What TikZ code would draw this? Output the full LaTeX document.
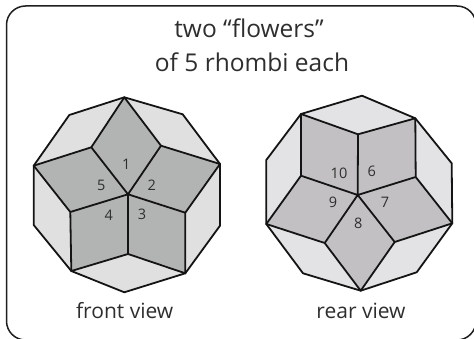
\documentclass[tikz,border=0pt]{standalone}
\usepackage{fontspec}
\setmainfont{Open Sans}
\definecolor{lightA}{HTML}{E0E0E0}
\definecolor{darkA}{HTML}{B2B4B3}
\definecolor{lightB}{HTML}{E3E3E5}
\definecolor{darkB}{HTML}{C2C0C3}
\definecolor{inkT}{HTML}{2E2E2E}
\tikzset{
  edge/.style={draw=black!92,line width=1.8pt,line join=round},
  frame/.style={draw=black!88,line width=1.5pt,rounded corners=19pt},
  titletext/.style={text=inkT,font=\fontsize{24.5}{24.5}\selectfont,inner sep=0pt,anchor=base},
  captext/.style={text=inkT,font=\fontsize{21}{21}\selectfont,inner sep=0pt,anchor=base},
  num/.style={text=inkT,font=\fontsize{14.5}{15}\selectfont,inner sep=0pt,anchor=base}
}
\begin{document}
\begin{tikzpicture}[x=1pt,y=-1pt]
\useasboundingbox (0,0) rectangle (474,339);
\begin{scope}
\clip (0,0) rectangle (474,339);
\draw[frame] (6.5,6) rectangle (476,340);
\end{scope}
\node[titletext] (t1) at (249,37.5) {two “flowers”};
\node[titletext] (t2) at (252,71.5) {of 5 rhombi each};
% front view
\coordinate (a0) at (124.3,97.3);
\coordinate (a1) at (182.7,114.3);
\coordinate (a2) at (220,164);
\coordinate (a3) at (220,225.7);
\coordinate (a4) at (185.3,273.3);
\coordinate (a5) at (124.3,292.3);
\coordinate (a6) at (71.3,271);
\coordinate (a7) at (33.7,225);
\coordinate (a8) at (33.7,165.7);
\coordinate (a9) at (69.3,115);
\coordinate (ac) at (128,194.3);
\coordinate (ap) at (91.3,147.3);
\coordinate (aq) at (161,145.7);
\coordinate (ar) at (185.3,212.7);
\coordinate (as) at (70.3,212);
\coordinate (at) at (128,254);
\fill[lightA] (a0)--(a1)--(a2)--(a3)--(a4)--(a5)--(a6)--(a7)--(a8)--(a9)--cycle;
\fill[darkA] (a0)--(aq)--(a2)--(ar)--(a4)--(at)--(a6)--(as)--(a8)--(ap)--cycle;
\draw[edge] (a0)--(a1)--(a2)--(a3)--(a4)--(a5)--(a6)--(a7)--(a8)--(a9)--cycle;
\draw[edge] (a0)--(aq)--(a2)--(ar)--(a4)--(at)--(a6)--(as)--(a8)--(ap)--cycle;
\draw[edge] (ap)--(ac) (aq)--(ac) (ar)--(ac) (as)--(ac) (at)--(ac);
\node[num] (n1) at (126.3,170) {1};
\node[num] (n2) at (151.7,191) {2};
\node[num] (n3) at (142,220) {3};
\node[num] (n4) at (108.7,220.7) {4};
\node[num] (n5) at (101.3,191) {5};
\node[captext] (fv) at (124.7,318.3) {front view};
% rear view
\coordinate (b0) at (362,95.7);
\coordinate (b1) at (415.3,118.3);
\coordinate (b2) at (451.7,163.3);
\coordinate (b3) at (452.3,223.3);
\coordinate (b4) at (416.7,272.3);
\coordinate (b5) at (360.7,290.7);
\coordinate (b6) at (303,273.3);
\coordinate (b7) at (266.3,224);
\coordinate (b8) at (266.3,160);
\coordinate (b9) at (301,114);
\coordinate (bc) at (357.7,195);
\coordinate (bp) at (358,134.3);
\coordinate (bq) at (415.7,177);
\coordinate (br) at (394.7,242);
\coordinate (bs) at (324.7,243);
\coordinate (bt) at (301,175.7);
\fill[lightB] (b0)--(b1)--(b2)--(b3)--(b4)--(b5)--(b6)--(b7)--(b8)--(b9)--cycle;
\fill[darkB] (b9)--(bp)--(b1)--(bq)--(b3)--(br)--(b5)--(bs)--(b7)--(bt)--cycle;
\draw[edge] (b0)--(b1)--(b2)--(b3)--(b4)--(b5)--(b6)--(b7)--(b8)--(b9)--cycle;
\draw[edge] (b9)--(bp)--(b1)--(bq)--(b3)--(br)--(b5)--(bs)--(b7)--(bt)--cycle;
\draw[edge] (bp)--(bc) (bq)--(bc) (br)--(bc) (bs)--(bc) (bt)--(bc);
\node[num] (n6) at (371.7,176.7) {6};
\node[num] (n7) at (385,207.3) {7};
\node[num] (n8) at (358.3,228.3) {8};
\node[num] (n9) at (333,207.3) {9};
\node[num] (n10) at (339,179) {10};
\node[captext] (rv) at (361,318) {rear view};
\end{tikzpicture}
\end{document}
